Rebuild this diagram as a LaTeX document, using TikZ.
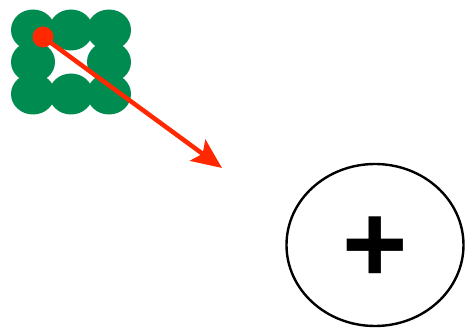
\documentclass[tikz,border=0pt]{standalone}
\usepackage{fontspec}
\setmainfont{Liberation Sans}
\usepackage{tikz}
\usetikzlibrary{arrows.meta,shapes.geometric,positioning}
\definecolor{blobgreen}{RGB}{0,140,80}
\definecolor{arrowred}{RGB}{255,40,0}

\begin{document}
\begin{tikzpicture}[x=1pt,y=-1pt,blob/.style={ellipse,fill=blobgreen,minimum width=44pt,minimum height=41pt,inner sep=0pt}]
    \useasboundingbox (0,0) rectangle (466,328);
    \node[blob] (NW) at (33,30) {};
    \node[blob] (N) at (71,30) {};
    \node[blob] (NE) at (109,30) {};
    \node[blob] (W) at (33,62) {};
    \node[blob] (E) at (109,62) {};
    \node[blob] (SW) at (33,94) {};
    \node[blob] (S) at (71,94) {};
    \node[blob] (SE) at (109,94) {};
    \node[circle,fill=arrowred,minimum size=21pt,inner sep=0pt] (dot) at (43,37) {};
    \coordinate (tip) at (222,168);
    \draw[arrowred,line width=4.5pt,-{Stealth[length=30pt,width=26pt,inset=6pt]}] (dot.center) -- (tip);
    \node[ellipse,draw,line width=2.4pt,minimum width=177pt,minimum height=162pt,inner sep=0pt] (plus) at (375,245) {};
    \node[yshift=-5pt] (sign) at (plus.center) {\fontsize{112}{112}\selectfont\bfseries +};
  \end{tikzpicture}
\end{document}
